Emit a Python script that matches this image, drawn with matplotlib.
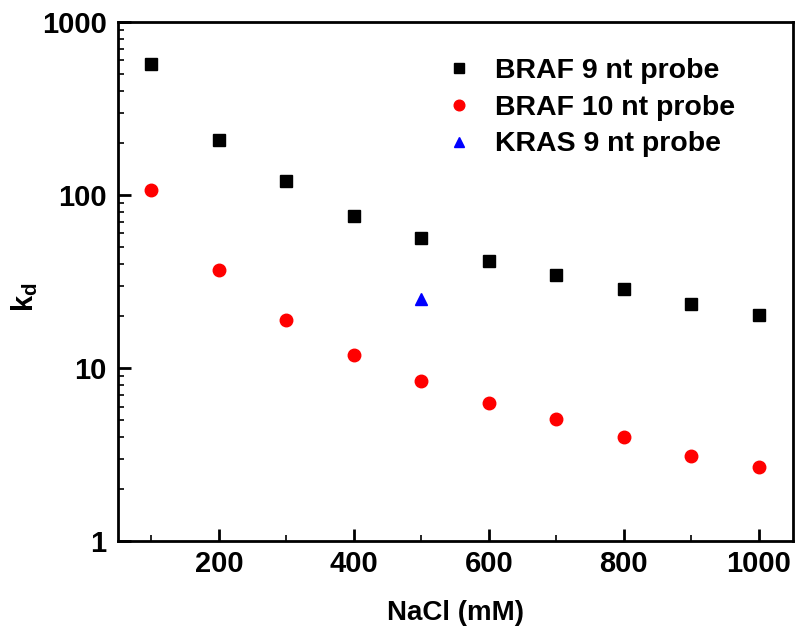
import matplotlib
matplotlib.use("Agg")
import matplotlib.pyplot as plt
from matplotlib.ticker import LogLocator, FixedLocator, NullFormatter

# Data
nacl = [100, 200, 300, 400, 500, 600, 700, 800, 900, 1000]
braf9 = [571, 208, 120, 75.5, 56.5, 41.5, 34.5, 28.6, 23.6, 20.2]
braf10 = [107, 36.8, 18.9, 11.9, 8.4, 6.3, 5.05, 3.99, 3.1, 2.68]
kras_x = [500]
kras9 = [25.2]

plt.rcParams['font.family'] = ['Liberation Sans', 'DejaVu Sans']
plt.rcParams['font.weight'] = 'bold'
plt.rcParams['mathtext.fontset'] = 'custom'
plt.rcParams['mathtext.rm'] = 'Liberation Sans:bold'
plt.rcParams['mathtext.it'] = 'Liberation Sans:bold'

fig = plt.figure(figsize=(7.95, 6.3), dpi=100)
ax = fig.add_axes([0.148, 0.141, 0.849, 0.824])

ax.plot(nacl, braf9, 's', color='black', markersize=8, label='BRAF 9 nt probe')
ax.plot(nacl, braf10, 'o', color='red', markersize=9, label='BRAF 10 nt probe')
ax.plot(kras_x, kras9, '^', color='blue', markersize=8.5, label='KRAS 9 nt probe')

ax.set_yscale('log')
ax.set_ylim(1, 1000)
ax.set_xlim(50, 1050)
ax.set_xticks([200, 400, 600, 800, 1000])
ax.xaxis.set_minor_locator(FixedLocator([100, 300, 500, 700, 900]))
ax.yaxis.set_minor_locator(LogLocator(base=10, subs=range(2, 10), numticks=20))
ax.yaxis.set_minor_formatter(NullFormatter())
ax.set_yticks([1, 10, 100, 1000])
ax.set_yticklabels(['1', '10', '100', '1000'])

ax.tick_params(which='major', direction='in', length=9, width=2, labelsize=21, pad=6)
ax.tick_params(axis='y', which='major', pad=8)
ax.tick_params(which='minor', direction='in', length=4, width=1.2)
for sp in ax.spines.values():
    sp.set_linewidth(2)

ax.set_xlabel('NaCl (mM)', fontsize=20, fontweight='bold', labelpad=16)
ax.set_ylabel(r'k$_\mathrm{d}$', fontsize=21, fontweight='bold')
ax.yaxis.set_label_coords(-0.115, 0.47)

ax.legend(loc='upper left', frameon=False, fontsize=20.5, handletextpad=0.25,
          labelspacing=0.38, markerscale=0.85, bbox_to_anchor=(0.447, 0.953),
          borderaxespad=0)

fig.savefig('out.png', dpi=100)
